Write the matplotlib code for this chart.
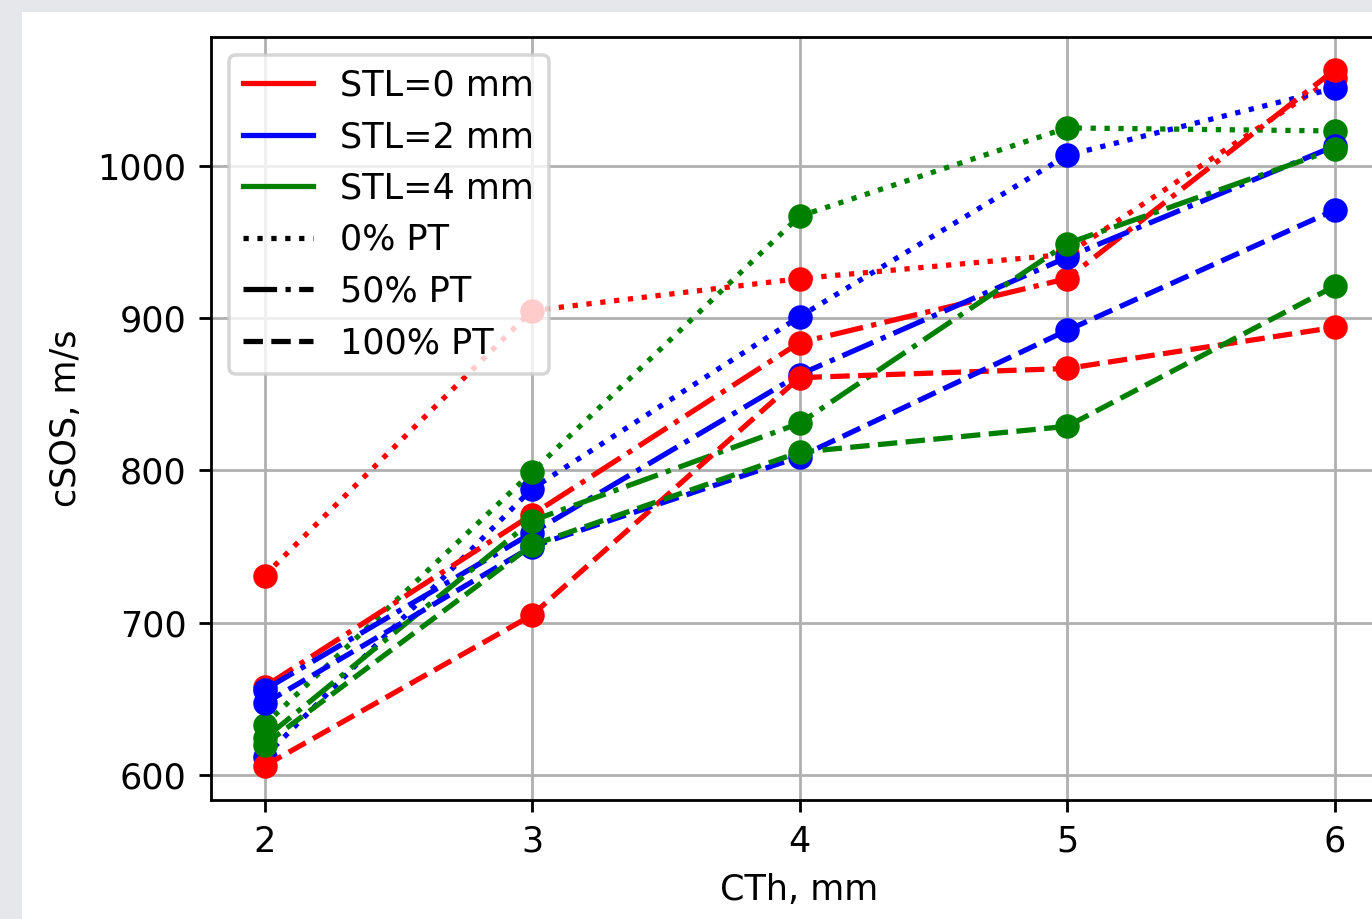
import matplotlib
matplotlib.use('Agg')
import matplotlib.pyplot as plt
from matplotlib.lines import Line2D
from matplotlib.patches import Rectangle

## data ##
cth = [2, 3, 4, 5, 6]

stl0_pt0 = [731, 905, 926, 942, 1058]
stl0_pt50 = [658, 771, 884, 926, 1063]
stl0_pt100 = [606, 705, 861, 867, 894]

stl2_pt0 = [612, 788, 901, 1007, 1051]
stl2_pt50 = [656, 759, 863, 940, 1013]
stl2_pt100 = [647, 750, 809, 892, 971]

stl4_pt0 = [633, 799, 967, 1025, 1023]
stl4_pt50 = [624, 767, 831, 949, 1011]
stl4_pt100 = [620, 751, 812, 829, 921]

stl_labels = ['STL=0 mm', 'STL=2 mm', 'STL=4 mm']
pt_labels = ['0% PT', '50% PT', '100% PT']
colors = ['red', 'blue', 'green']
styles = [':', '-.', '--']

# series[pt][stl]
series = [
    [stl0_pt0, stl2_pt0, stl4_pt0],
    [stl0_pt50, stl2_pt50, stl4_pt50],
    [stl0_pt100, stl2_pt100, stl4_pt100],
]

## figure ##
fig = plt.figure(figsize=(1372 / 252, 919 / 252), dpi=252)
fig.patch.set_facecolor('#e5e7eb')
# white page area, the screenshot is cropped on the right and bottom
page = Rectangle((22 / 1372, 0), 1, (919 - 12) / 919,
                 transform=fig.transFigure, facecolor='white',
                 edgecolor='none', zorder=-10)
fig.add_artist(page)

ax = fig.add_axes([211 / 1372, (919 - 800) / 919, (1388 - 211) / 1372, (800 - 37) / 919])

for p in range(3):
    for s in range(3):
        ax.plot(cth, series[p][s], color=colors[s], linestyle=styles[p], marker='o')

ax.set_xlim(1.8, 6.2)
ax.set_ylim(583.6, 1084.7)
ax.set_xticks(cth)
ax.set_yticks([600, 700, 800, 900, 1000])
ax.grid(True)
ax.set_xlabel('CTh, mm')
ax.set_ylabel('cSOS, m/s')

handles = [Line2D([], [], color=c) for c in colors]
handles += [Line2D([], [], color='black', linestyle=ls) for ls in styles]
ax.legend(handles, stl_labels + pt_labels, loc='upper left')

fig.savefig('out.png', dpi=252, facecolor=fig.get_facecolor())
